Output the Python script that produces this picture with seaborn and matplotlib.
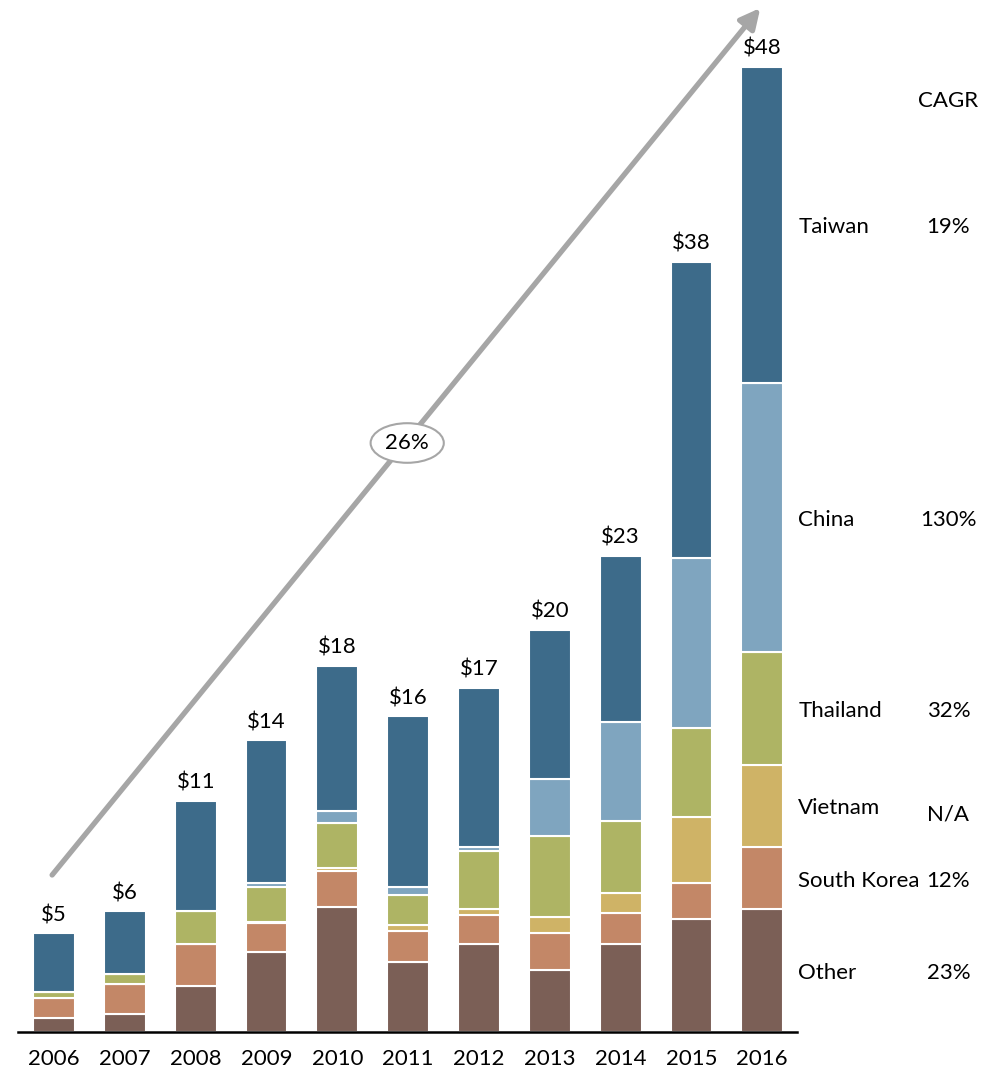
import matplotlib
matplotlib.use("Agg")
import matplotlib.pyplot as plt
import seaborn as sns
import numpy as np
import pandas as pd

years = ["2006", "2007", "2008", "2009", "2010", "2011", "2012", "2013", "2014", "2015", "2016"]
other = [0.7, 0.9, 2.3, 4.0, 6.2, 3.5, 4.4, 3.1, 4.4, 5.6, 6.1]
south_korea = [1.0, 1.5, 2.1, 1.4, 1.8, 1.5, 1.4, 1.8, 1.5, 1.8, 3.1]
vietnam = [0.0, 0.0, 0.0, 0.05, 0.15, 0.3, 0.3, 0.8, 1.0, 3.3, 4.1]
thailand = [0.3, 0.5, 1.6, 1.75, 2.25, 1.5, 2.9, 4.05, 3.6, 4.4, 5.6]
china = [0.0, 0.0, 0.0, 0.2, 0.6, 0.4, 0.2, 2.85, 4.9, 8.5, 13.4]
taiwan = [2.9, 3.1, 5.5, 7.1, 7.2, 8.5, 7.9, 7.4, 8.3, 14.7, 15.7]
total_labels = ["$5", "$6", "$11", "$14", "$18", "$16", "$17", "$20", "$23", "$38", "$48"]
series_names = ["Other", "South Korea", "Vietnam", "Thailand", "China", "Taiwan"]
cagr = ["23%", "12%", "N/A", "32%", "130%", "19%"]
overall_cagr = "26%"

colors = ["#7B5F56", "#C38767", "#CFB366", "#AEB464", "#7FA5BF", "#3D6B8A"]
series = [other, south_korea, vietnam, thailand, china, taiwan]

sns.set_theme(style="white")
plt.rcParams["font.family"] = ["Lato", "DejaVu Sans"]

FS = 16
W, H = 999, 1071
fig = plt.figure(figsize=(W / 100, H / 100), dpi=100)
px_per_unit = 965 / 48.0
ax_left, ax_right, ax_bottom = 18, 797, 1032
ax = fig.add_axes([ax_left / W, (H - ax_bottom) / H, (ax_right - ax_left) / W, ax_bottom / H])

df = pd.DataFrame({"year": years})
cum = np.zeros(len(years))
for name, vals, col in zip(series_names, series, colors):
    df[name] = vals
    sns.barplot(data=df, x="year", y=name, bottom=cum.copy(), color=col, width=0.59,
                edgecolor="white", linewidth=1.5, errorbar=None, ax=ax, saturation=1)
    cum = cum + np.array(vals)

ax.set_xlim(-0.51, 10.49)
ax.set_ylim(0, ax_bottom / px_per_unit)
ax.set_xlabel("")
ax.set_ylabel("")
ax.set_yticks([])
for s in ["top", "right", "left"]:
    ax.spines[s].set_visible(False)
ax.spines["bottom"].set_color("black")
ax.spines["bottom"].set_linewidth(1.8)
ax.tick_params(axis="x", length=0, pad=12, labelsize=FS)
for lab in ax.get_xticklabels():
    lab.set_color("black")

# total labels
for i, (t, lab) in enumerate(zip(cum, total_labels)):
    ax.annotate(lab, (i, t), xytext=(0, 6), textcoords="offset points",
                ha="center", va="bottom", fontsize=FS, color="black")

# right side series labels with CAGR
last = np.array([s[-1] for s in series])
bottoms = np.concatenate([[0], np.cumsum(last)[:-1]])
centers = bottoms + last / 2 - 0.12
x_name = (798 - 54) / 70.8
x_cagr = (948 - 54) / 70.8
for name, c, g in zip(series_names, centers, cagr):
    ax.text(x_name, c, name, ha="left", va="center", fontsize=FS, color="black", clip_on=False)
    dy = -0.3 if g == "N/A" else 0
    ax.text(x_cagr, c + dy, g, ha="center", va="center", fontsize=FS, color="black", clip_on=False)
ax.text(x_cagr, (ax_bottom - 101) / px_per_unit, "CAGR", ha="center", va="center",
        fontsize=FS, color="black", clip_on=False)

# growth arrow
x0 = (52 - 54) / 70.8
y0 = (ax_bottom - 875) / px_per_unit
x1 = (760 - 54) / 70.8
y1 = (ax_bottom - 8) / px_per_unit
ax.annotate("", xy=(x1, y1), xytext=(x0, y0),
            arrowprops=dict(arrowstyle="-|>,head_length=1.0,head_width=0.5", color="#A6A6A6",
                            lw=3.8, shrinkA=0, shrinkB=0), annotation_clip=False)
ax.text((407 - 54) / 70.8, (ax_bottom - 443) / px_per_unit, overall_cagr, ha="center", va="center",
        fontsize=FS, color="black",
        bbox=dict(boxstyle="ellipse,pad=0.18", fc="white", ec="#A6A6A6", lw=1.5), zorder=5)

fig.savefig("out.png", dpi=100)
